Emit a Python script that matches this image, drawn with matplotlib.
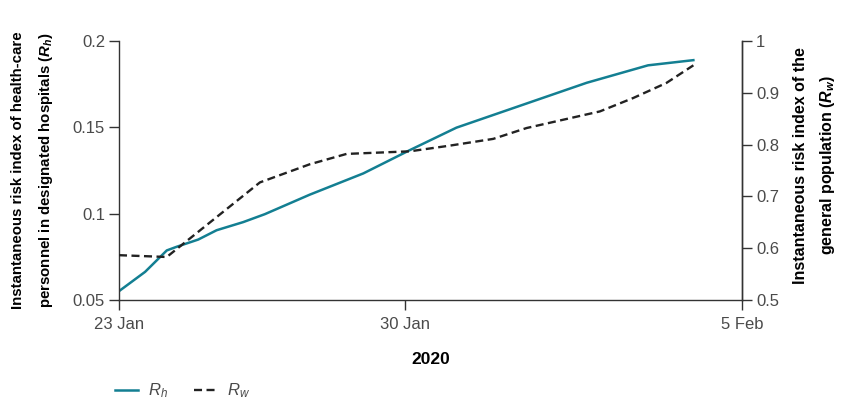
import matplotlib
matplotlib.use("Agg")
import matplotlib.pyplot as plt

plt.rcParams['font.family'] = ['Liberation Sans', 'DejaVu Sans']
plt.rcParams['mathtext.fontset'] = 'custom'
plt.rcParams['mathtext.rm'] = 'Liberation Sans'
plt.rcParams['mathtext.it'] = 'Liberation Sans:italic'
plt.rcParams['mathtext.bf'] = 'Liberation Sans:bold'
plt.rcParams['mathtext.bfit'] = 'Liberation Sans:italic:bold'

# days after 23 Jan 2020
rh_days = [0.0, 0.64, 1.17, 1.41, 1.94, 2.39, 3.04, 3.57, 4.67, 5.98, 7.12, 8.26, 11.45, 12.95, 14.06]
rh_vals = [0.0551, 0.0663, 0.0787, 0.0808, 0.0850, 0.0904, 0.0951, 0.0997, 0.111, 0.1233, 0.1368, 0.1498, 0.1758, 0.1859, 0.1889]

rw_days = [0.0, 1.17, 3.45, 4.67, 5.57, 7.12, 8.10, 9.16, 9.98, 11.77, 12.59, 13.40, 14.06]
rw_vals = [0.5865, 0.583, 0.727, 0.762, 0.782, 0.787, 0.798, 0.811, 0.832, 0.864, 0.890, 0.919, 0.953]

date_ticks = [0, 7, 15.25]
date_labels = ["23 Jan", "30 Jan", "5 Feb"]
left_ticks = [0.05, 0.1, 0.15, 0.2]
left_labels = ["0.05", "0.1", "0.15", "0.2"]
right_ticks = [0.5, 0.6, 0.7, 0.8, 0.9, 1.0]
right_labels = ["0.5", "0.6", "0.7", "0.8", "0.9", "1"]

teal = "#137f92"
tick_col = "#4a4a4a"

fig = plt.figure(figsize=(8.48, 4.01), dpi=100)
ax = fig.add_axes([0.1403, 0.2519, 0.7347, 0.6459])
ax2 = ax.twinx()

l1, = ax.plot(rh_days, rh_vals, color=teal, lw=1.8)
l2, = ax2.plot(rw_days, rw_vals, color="#222222", lw=1.7, ls=(0, (3.4, 1.9)))

ax.set_xlim(0, 15.25)
ax.set_ylim(0.05, 0.2)
ax2.set_ylim(0.5, 1.0)

ax.set_xticks(date_ticks)
ax.set_xticklabels(date_labels)
ax.set_yticks(left_ticks)
ax.set_yticklabels(left_labels)
ax2.set_yticks(right_ticks)
ax2.set_yticklabels(right_labels)

for a in (ax, ax2):
    a.spines['top'].set_visible(False)
    for s in a.spines.values():
        s.set_color("#333333")
        s.set_linewidth(1.0)
    a.tick_params(length=7, width=1.0, color="#333333", labelsize=12,
                  labelcolor=tick_col, pad=3)
ax.tick_params(axis='x', pad=5)
ax2.spines['left'].set_visible(False)
ax2.spines['bottom'].set_visible(False)

ax.set_xlabel("2020", fontsize=12.5, fontweight="bold")
ax.xaxis.set_label_coords(0.5, -0.2)
ax.set_ylabel("Instantaneous risk index of health-care\npersonnel in designated hospitals ($\\mathbfit{R_h}$)",
              fontsize=10.8, fontweight="bold", linespacing=1.85, va="center")
ax.yaxis.set_label_coords(-0.138, 0.5)
ax2.set_ylabel("Instantaneous risk index of the\ngeneral population ($\\mathbfit{R_w}$)",
               fontsize=11.5, fontweight="bold", linespacing=1.75, va="center",
               rotation=90)
ax2.yaxis.set_label_coords(1.117, 0.52)

fig.legend([l1, l2], ["$R_h$", "$R_w$"], loc="center left",
           bbox_to_anchor=(0.118, 0.025), ncol=2, frameon=False,
           fontsize=12, handlelength=1.35, handletextpad=0.6,
           columnspacing=1.6, labelcolor=tick_col)

fig.savefig("out.png", dpi=100)
